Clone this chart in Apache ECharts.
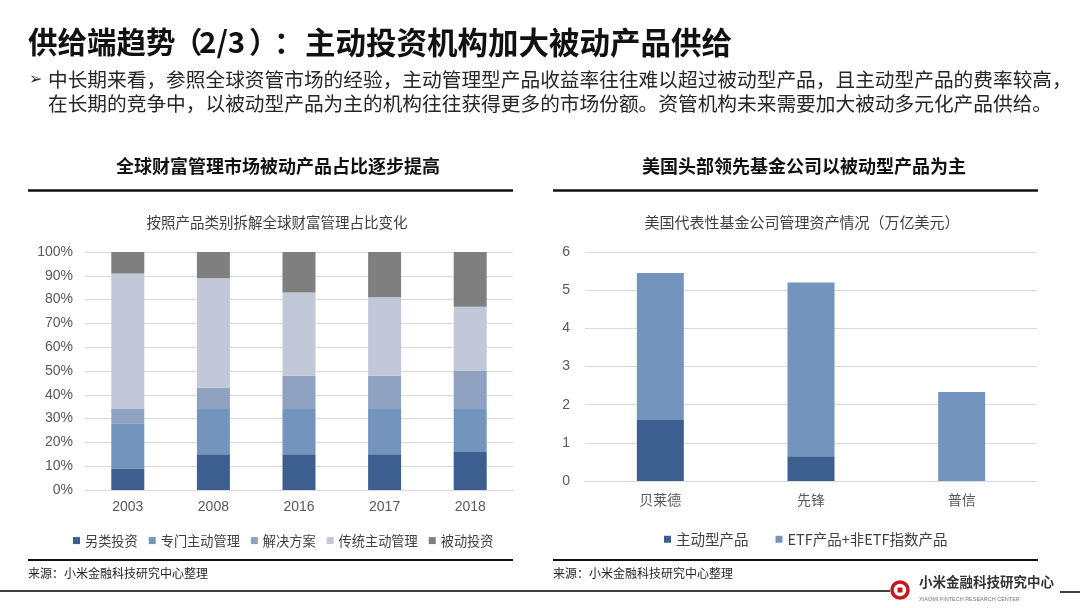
<!DOCTYPE html>
<html>
<head>
<meta charset="utf-8">
<script src="https://cdn.jsdelivr.net/npm/echarts@6.0.0/dist/echarts.min.js"></script>
<style>
html,body{margin:0;padding:0;background:#fff;}
#c{width:1080px;height:608px;}
</style>
</head>
<body>
<div id="c"></div>
<script>
// ---- Data ----
const years = ['2003', '2008', '2016', '2017', '2018'];
const altInvest = [9, 15, 15, 15, 16];        // 另类投资
const specActive = [19, 19, 19, 19, 18];      // 专门主动管理
const solutions = [6, 9, 14, 14, 16];         // 解决方案
const tradActive = [57, 46, 35, 33, 27];      // 传统主动管理
const passiveInv = [9, 11, 17, 19, 23];       // 被动投资

const firms = ['贝莱德', '先锋', '普信'];
const activeProducts = [1.6, 0.65, 0];        // 主动型产品
const etfIndexProducts = [3.85, 4.55, 2.33];  // ETF产品+非ETF指数产品

const leftNames = ['另类投资', '专门主动管理', '解决方案', '传统主动管理', '被动投资'];
const rightNames = ['主动型产品', 'ETF产品+非ETF指数产品'];

// ---- Style ----
const CJK = "'Noto Sans CJK SC', 'Noto Sans', sans-serif";
const NUM = "'Liberation Sans', 'Noto Sans CJK SC', sans-serif";
const cDark = '#3d5f8f', cMid = '#7394bd', cSol = '#8fa2c2', cLight = '#c1c8d8', cGray = '#7f7f7f';

const chart = echarts.init(document.getElementById('c'));

function txt(x, y, text, size, opts) {
  opts = opts || {};
  return {
    type: 'text', x: x, y: y, silent: true,
    style: {
      text: text, fontSize: size, fontFamily: opts.family || CJK,
      fontWeight: opts.weight || 'normal', fill: opts.fill || '#262626',
      align: opts.align || 'left',
      verticalAlign: 'middle'
    }
  };
}
function ln(x1, y1, x2, y2, w, color) {
  return { type: 'line', silent: true, shape: { x1: x1, y1: y1, x2: x2, y2: y2 },
    style: { stroke: color || '#000', lineWidth: w } };
}

const leftSeries = [altInvest, specActive, solutions, tradActive, passiveInv].map((d, i) => ({
  name: leftNames[i], type: 'bar', stack: 'L', xAxisIndex: 0, yAxisIndex: 0,
  barWidth: 33, data: d,
  itemStyle: { color: [cDark, cMid, cSol, cLight, cGray][i] }
}));
const rightSeries = [activeProducts, etfIndexProducts].map((d, i) => ({
  name: rightNames[i], type: 'bar', stack: 'R', xAxisIndex: 1, yAxisIndex: 1,
  barWidth: 47, data: d,
  itemStyle: { color: [cDark, cMid][i] }
}));

const axisLabel = { color: '#595959', fontSize: 14, fontFamily: NUM };
const titleOpts = { weight: 'bold', fill: '#111' };

chart.setOption({
  animation: false,
  grid: [
    { left: 85, top: 252, width: 428, height: 238 },
    { left: 585, top: 252, width: 452, height: 229 }
  ],
  xAxis: [
    { type: 'category', gridIndex: 0, data: years,
      axisLine: { lineStyle: { color: '#d9d9d9' } }, axisTick: { show: false },
      axisLabel: Object.assign({ margin: 10 }, axisLabel) },
    { type: 'category', gridIndex: 1, data: firms,
      axisLine: { lineStyle: { color: '#d9d9d9' } }, axisTick: { show: false },
      axisLabel: Object.assign({ margin: 12 }, axisLabel, { fontFamily: CJK }) }
  ],
  yAxis: [
    { type: 'value', gridIndex: 0, min: 0, max: 100, interval: 10,
      axisLine: { show: false }, axisTick: { show: false },
      splitLine: { lineStyle: { color: '#d9d9d9' } },
      axisLabel: Object.assign({ margin: 12, formatter: '{value}%' }, axisLabel) },
    { type: 'value', gridIndex: 1, min: 0, max: 6, interval: 1,
      axisLine: { show: false }, axisTick: { show: false },
      splitLine: { lineStyle: { color: '#d9d9d9' } },
      axisLabel: Object.assign({ margin: 15 }, axisLabel) }
  ],
  legend: [
    { data: leftNames, left: 68, top: 529, icon: 'rect', itemWidth: 7, itemHeight: 7,
      itemGap: 11, textStyle: { color: '#404040', fontSize: 13.2, fontFamily: CJK } },
    { data: rightNames, left: 659, top: 527, icon: 'rect', itemWidth: 7, itemHeight: 7,
      itemGap: 27, textStyle: { color: '#404040', fontSize: 14.5, fontFamily: CJK } }
  ],
  series: leftSeries.concat(rightSeries),
  graphic: [
    txt(28, 42, '供给端趋势', 29.5, titleOpts),
    txt(173, 42, '（', 29.5, titleOpts),
    txt(199, 42, '2/3', 29.5, titleOpts),
    txt(249, 42, '）', 29.5, titleOpts),
    txt(274, 42, '：', 29.5, titleOpts),
    txt(305, 42, '主动投资机构加大被动产品供给', 30.5, titleOpts),
    txt(29, 80, '➢', 16, { family: "'DejaVu Sans', sans-serif", fill: '#262626' }),
    txt(48, 80, '中长期来看，参照全球资管市场的经验，主动管理型产品收益率往往难以超过被动型产品，且主动型产品的费率较高，', 19.7),
    txt(48, 104, '在长期的竞争中，以被动型产品为主的机构往往获得更多的市场份额。资管机构未来需要加大被动多元化产品供给。', 19.7),
    txt(278, 166, '全球财富管理市场被动产品占比逐步提高', 18, { weight: 'bold', align: 'center', fill: '#111' }),
    txt(804, 166, '美国头部领先基金公司以被动型产品为主', 18, { weight: 'bold', align: 'center', fill: '#111' }),
    ln(28, 190.5, 513, 190.5, 2.5, '#111'),
    ln(553, 190.5, 1038, 190.5, 2.5, '#111'),
    txt(277, 222, '按照产品类别拆解全球财富管理占比变化', 14.5, { align: 'center', fill: '#404040' }),
    txt(802, 222, '美国代表性基金公司管理资产情况（万亿美元）', 15, { align: 'center', fill: '#404040' }),
    ln(28, 560, 513, 560, 2, '#111'),
    ln(553, 560, 1038, 560, 2, '#111'),
    txt(28, 573, '来源：小米金融科技研究中心整理', 12, { fill: '#262626' }),
    txt(553, 573, '来源：小米金融科技研究中心整理', 12, { fill: '#262626' }),
    ln(0, 591, 890, 591, 2, '#404040'),
    ln(1060, 592, 1080, 592, 2, '#404040'),
    { type: 'circle', silent: true, shape: { cx: 900, cy: 590, r: 8 },
      style: { stroke: '#c8161d', lineWidth: 3.5, fill: '#fff' } },
    { type: 'rect', silent: true, shape: { x: 897.5, y: 587.5, width: 5, height: 5 }, style: { fill: '#c8161d' } },
    txt(919, 582, '小米金融科技研究中心', 13.5, { weight: 'bold', fill: '#333' }),
    txt(919, 599, 'XIAOMI FINTECH RESEARCH CENTER', 5.5, { family: NUM, fill: '#777' })
  ]
});
</script>
</body>
</html>
